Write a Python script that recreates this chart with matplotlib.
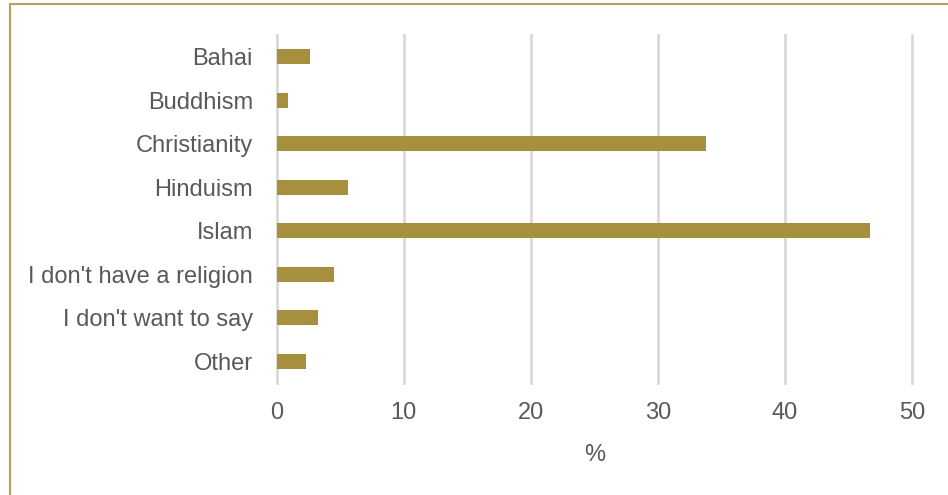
import matplotlib.pyplot as plt
from matplotlib.patches import Rectangle

plt.rcParams['font.family'] = ['Liberation Sans', 'DejaVu Sans']

religions = ['Bahai', 'Buddhism', 'Christianity', 'Hinduism', 'Islam',
             "I don't have a religion", "I don't want to say", 'Other']
percent = [2.6, 0.9, 33.8, 5.65, 46.7, 4.5, 3.3, 2.35]

bar_color = '#A68F3D'
text_color = '#595959'

fig = plt.figure(figsize=(9.48, 4.95), dpi=100)
ax = fig.add_axes([0.2917, 0.2263, 0.6704, 0.703])

ax.barh(range(len(religions)), percent, height=0.35, color=bar_color)
ax.set_yticks(range(len(religions)))
ax.set_yticklabels(religions)
ax.set_ylim(len(religions) - 0.5, -0.5)
ax.set_xlim(0, 50)
ax.set_xticks([0, 10, 20, 30, 40, 50])

ax.grid(axis='x', color='#D9D9D9', linewidth=2)
for line in ax.get_xgridlines():
    line.set_clip_on(False)
ax.set_axisbelow(True)
for side in ax.spines:
    ax.spines[side].set_visible(False)
ax.tick_params(length=0, labelsize=17, labelcolor=text_color)
ax.tick_params(axis='y', pad=17)
ax.tick_params(axis='x', pad=14)
ax.set_xlabel('%', fontsize=17, color=text_color, labelpad=14)

# thin gold frame around the chart area
fig.patches.append(Rectangle((9.5 / 948, -0.1), 1.2, 1.1 - 4.5 / 495,
                             transform=fig.transFigure, fill=False,
                             edgecolor='#B5A055', linewidth=1.5))

fig.savefig('out.png', dpi=100)
